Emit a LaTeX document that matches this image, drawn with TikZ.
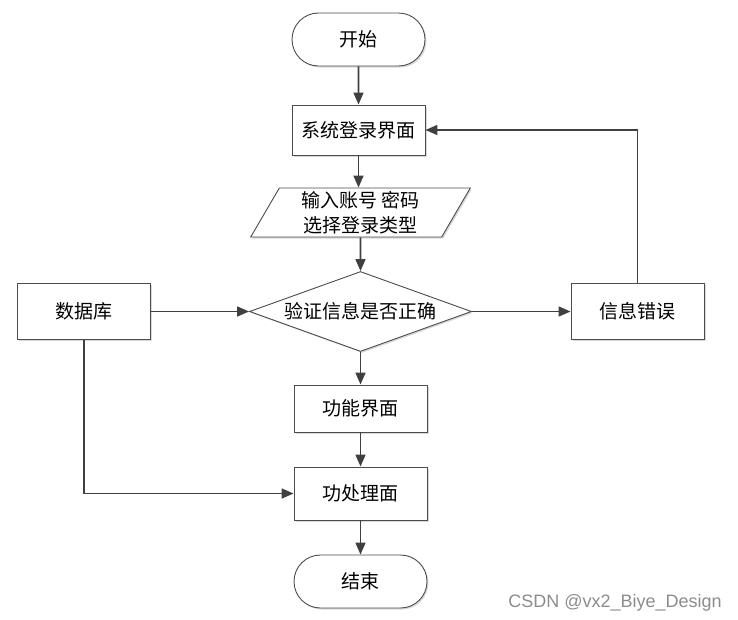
\documentclass[tikz,border=0pt]{standalone}
\usepackage{fontspec}
\setmainfont{Liberation Sans}
\newfontfamily\cjk{Noto Sans CJK SC}
\usetikzlibrary{shapes.geometric,shapes.misc,arrows.meta,shadows}
\begin{document}
\begin{tikzpicture}[x=1pt,y=-1pt,
 box/.style={draw=black!70, line width=0.9pt, fill=white, inner sep=0pt,
   font=\cjk\fontsize{19}{25}\selectfont,
   drop shadow={shadow xshift=1.5pt,shadow yshift=-1.5pt,fill=black!15,opacity=1}},
 term/.style={box, rounded rectangle, minimum width=133pt, minimum height=53pt},
 proc/.style={box, rectangle, minimum width=133pt},
 link/.style={draw=black!75, line width=1.6pt, -{Triangle[length=12pt,width=10pt]}}
]
\useasboundingbox (0,0) rectangle (738,619);
\node[term] (start) at (358.5,39.5) {开始};
\node[proc, minimum height=50pt] (login) at (358.5,130) {系统登录界面};
\node[box, trapezium, trapezium left angle=64, trapezium right angle=116,
      trapezium stretches=true, minimum width=220pt, minimum height=49pt, align=center]
      (input) at (360.5,212.5) {输入账号 密码\\选择登录类型};
\node[box, diamond, aspect=2.775, minimum width=222pt, minimum height=80pt]
      (check) at (360.5,311.5) {验证信息是否正确};
\node[proc, minimum height=56pt] (db) at (84,311.5) {数据库};
\node[proc, minimum height=56pt] (err) at (637.5,311.5) {信息错误};
\node[proc, minimum height=47pt] (func) at (360.5,408.5) {功能界面};
\node[proc, minimum height=53pt] (proc2) at (360.5,493.5) {功处理面};
\node[term] (end) at (360.5,581.5) {结束};
\node[font=\fontsize{18}{22}\selectfont, text=black!45, anchor=base east, inner sep=0pt]
      (wm) at (722,607) {CSDN @vx2\_Biye\_Design};
\draw[link] (start) -- (login);
\draw[link] (login.south) -- (login.south |- input.north);
\draw[link] (input) -- (check);
\draw[link] (db.east) -- (check.west);
\draw[link] (check.east) -- (err.west);
\draw[link] (err.north) |- (login.east);
\draw[link] (check.south) -- (func.north);
\draw[link] (func) -- (proc2);
\draw[link] (db.south) |- (proc2.west);
\draw[link] (proc2) -- (end);
\end{tikzpicture}
\end{document}
